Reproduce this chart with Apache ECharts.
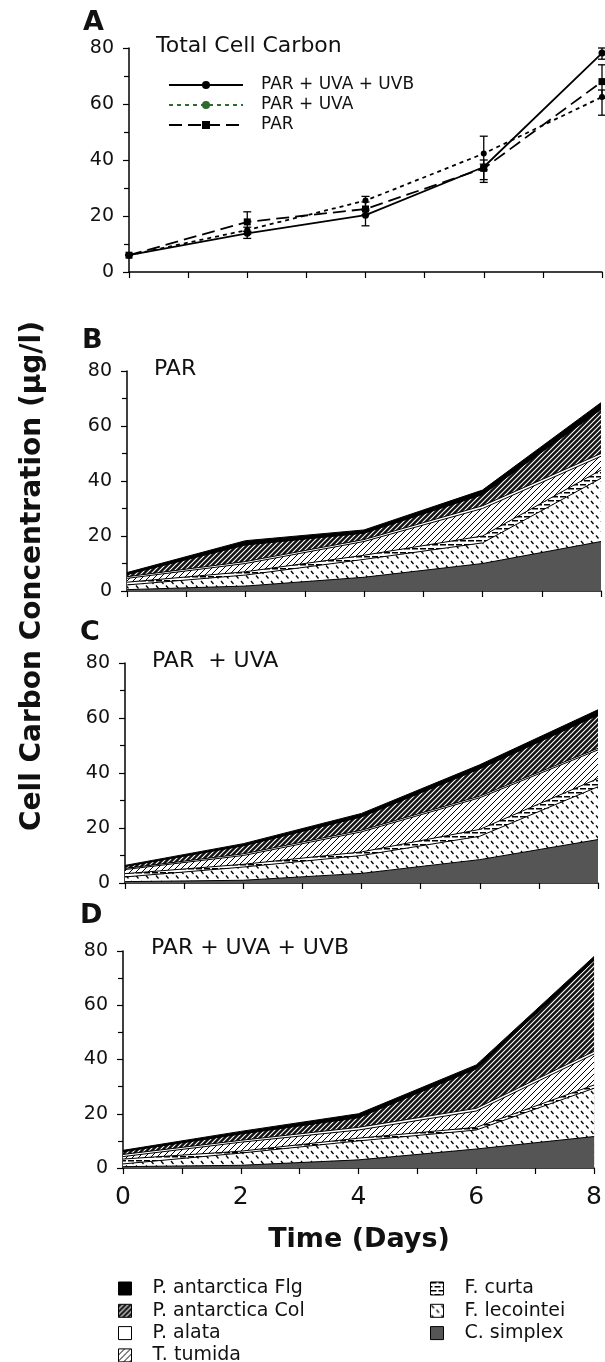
<!DOCTYPE html>
<html><head><meta charset="utf-8">
<script src="https://cdn.jsdelivr.net/npm/echarts@6/dist/echarts.min.js"></script>
<style>html,body{margin:0;padding:0;background:#fff}#c{width:605px;height:1362px}</style>
</head><body><div id="c"></div>
<script>
// ---- data ----
const days = [0, 2, 4, 6, 8];
const yTicks = [0, 20, 40, 60, 80];
const xTickLabels = ['0', '2', '4', '6', '8'];

// Panel A: total cell carbon
const totalNames = ['PAR + UVA + UVB', 'PAR + UVA', 'PAR'];
const totalUVB = [6, 13.8, 20.3, 37.5, 78.2];
const totalUVA = [6, 15.0, 25.5, 42.3, 62.5];
const totalPAR = [6, 17.9, 22.5, 37.0, 68.0];
const errUVB = [[6, 6], [12, 14.5], [16.5, 22], [33, 38.5], [76, 80]];
const errUVA = [[6, 6], [13.5, 16], [22.5, 27], [36.5, 48.5], [56, 65]];
const errPAR = [[6, 6], [14.5, 21.5], [20.5, 25], [32, 40], [62, 74]];

// species, stacking order bottom -> top
const species = ['C. simplex', 'F. lecointei', 'F. curta', 'T. tumida', 'P. alata', 'P. antarctica Col', 'P. antarctica Flg'];

// Panel B: PAR
const B_Csimplex = [0.5, 1.8, 5.0, 10.0, 18.0];
const B_Flecointei = [1.7, 4.0, 6.5, 7.5, 23.0];
const B_Fcurta = [1.0, 1.2, 1.5, 2.5, 3.0];
const B_Ttumida = [1.4, 3.0, 5.0, 10.0, 5.0];
const B_Palata = [0.6, 0.7, 0.7, 1.0, 1.0];
const B_PantCol = [0.8, 6.0, 2.3, 4.0, 16.0];
const B_PantFlg = [0.7, 1.6, 1.2, 1.7, 2.5];

// Panel C: PAR + UVA
const C_Csimplex = [0.5, 1.0, 3.5, 8.5, 15.8];
const C_Flecointei = [1.7, 4.8, 6.5, 8.5, 19.2];
const C_Fcurta = [1.2, 1.0, 1.3, 2.5, 3.0];
const C_Ttumida = [1.5, 3.2, 7.3, 11.5, 10.4];
const C_Palata = [0.4, 0.6, 0.6, 0.6, 0.6];
const C_PantCol = [0.7, 2.9, 4.8, 9.9, 12.0];
const C_PantFlg = [0.4, 0.8, 1.3, 1.5, 2.0];

// Panel D: PAR + UVA + UVB
const D_Csimplex = [0.5, 1.0, 3.0, 7.0, 11.6];
const D_Flecointei = [1.0, 4.5, 7.0, 7.0, 17.8];
const D_Fcurta = [1.8, 0.7, 1.0, 1.0, 1.2];
const D_Ttumida = [0.9, 3.3, 3.0, 6.0, 11.4];
const D_Palata = [0.8, 0.7, 1.0, 1.0, 1.0];
const D_PantCol = [1.0, 2.3, 3.5, 14.5, 33.5];
const D_PantFlg = [0.5, 1.0, 1.5, 1.5, 1.5];

// ---- patterns ----
function tile(s, bg) {
  const c = document.createElement('canvas'); c.width = s; c.height = s;
  const g = c.getContext('2d'); g.fillStyle = bg; g.fillRect(0, 0, s, s); return [c, g];
}
function diag(g, s) {
  g.beginPath();
  g.moveTo(0, s); g.lineTo(s, 0);
  g.moveTo(-1, 1); g.lineTo(1, -1);
  g.moveTo(s - 1, s + 1); g.lineTo(s + 1, s - 1);
  g.stroke();
}
function pattern(kind) {
  let c, g;
  if (kind === 'col') { [c, g] = tile(5, '#111'); g.strokeStyle = '#fff'; g.lineWidth = 1.1; diag(g, 5); }
  else if (kind === 'tum') { [c, g] = tile(6, '#fff'); g.strokeStyle = '#000'; g.lineWidth = 1; diag(g, 6); }
  else if (kind === 'curta') { [c, g] = tile(8, '#fff'); g.fillStyle = '#000'; g.fillRect(0, 0, 6, 1.5); g.fillRect(4, 4, 4, 1.5); g.fillRect(0, 4, 2, 1.5); }
  else if (kind === 'lec') {
    [c, g] = tile(10, '#fff'); g.strokeStyle = '#000'; g.lineWidth = 1.3;
    g.beginPath(); g.moveTo(1, 1); g.lineTo(3.5, 4); g.moveTo(6, 5.5); g.lineTo(8.5, 8.5); g.stroke();
  }
  return { image: c, repeat: 'repeat' };
}
const fills = ['#555555', pattern('lec'), pattern('curta'), pattern('tum'), '#ffffff', pattern('col'), '#000000'];

// ---- layout ----
const FONT = 'DejaVu Sans';
const grids = [
  { left: 129, right: 3, top: 48, height: 224 },
  { left: 127, right: 4, top: 371, height: 220 },
  { left: 125, right: 7, top: 663, height: 220 },
  { left: 123, right: 8, top: 951, height: 217 }
];
const xAxes = grids.map((g, i) => ({
  type: 'value', gridIndex: i, min: 0, max: 8, interval: 2,
  axisLine: { lineStyle: { color: '#000', width: 1.5 } },
  axisTick: { length: 6, lineStyle: { color: '#000', width: 1.2 } },
  minorTick: { show: true, splitNumber: 2, length: 6, lineStyle: { color: '#000', width: 1.2 } },
  splitLine: { show: false },
  axisLabel: { show: i === 3, fontFamily: FONT, fontSize: 25, color: '#111', margin: 17,
    formatter: v => xTickLabels[days.indexOf(v)] }
}));
const yAxes = grids.map((g, i) => ({
  type: 'value', gridIndex: i, min: yTicks[0], max: yTicks[yTicks.length - 1], interval: 20,
  axisLine: { show: true, lineStyle: { color: '#000', width: 1.5 } },
  axisTick: { show: true, length: 6, lineStyle: { color: '#000', width: 1.2 } },
  minorTick: { show: true, splitNumber: 2, length: 5, lineStyle: { color: '#000', width: 1.2 } },
  splitLine: { show: false },
  axisLabel: { fontFamily: FONT, fontSize: 19, color: '#111', margin: 15 }
}));

// cumulative totals for the stacked areas (bottom -> top)
function cumulative(arrays) {
  let acc = days.map(() => 0);
  return arrays.map(a => { acc = acc.map((v, j) => v + a[j]); return acc.slice(); });
}
function stackSeries(gi, arrays) {
  const cum = cumulative(arrays);
  return species.map((name, i) => ({
    type: 'line', name, xAxisIndex: gi, yAxisIndex: gi,
    data: days.map((d, j) => [d, cum[i][j]]),
    symbol: 'none', lineStyle: { color: '#000', width: 1 },
    itemStyle: { color: fills[i] }, areaStyle: { color: fills[i], opacity: 1, origin: 'start' },
    z: 20 - i, silent: true, animation: false
  }));
}
function errSeries(err) {
  return {
    type: 'custom', xAxisIndex: 0, yAxisIndex: 0, silent: true, animation: false, z: 3,
    data: days.map((d, j) => [d, err[j][0], err[j][1]]),
    encode: { x: 0, y: [1, 2] },
    renderItem: (params, api) => {
      const x = api.value(0);
      const lo = api.coord([x, api.value(1)]), hi = api.coord([x, api.value(2)]);
      const w = 4, st = { stroke: '#000', lineWidth: 1.3 };
      return { type: 'group', children: [
        { type: 'line', shape: { x1: lo[0], y1: lo[1], x2: hi[0], y2: hi[1] }, style: st },
        { type: 'line', shape: { x1: lo[0] - w, y1: lo[1], x2: lo[0] + w, y2: lo[1] }, style: st },
        { type: 'line', shape: { x1: hi[0] - w, y1: hi[1], x2: hi[0] + w, y2: hi[1] }, style: st }
      ] };
    }
  };
}
const totalSeries = [
  { name: totalNames[0], type: 'line', xAxisIndex: 0, yAxisIndex: 0, data: days.map((d, j) => [d, totalUVB[j]]),
    symbol: 'circle', symbolSize: 7, itemStyle: { color: '#000' }, lineStyle: { color: '#000', width: 1.8, type: 'solid' }, z: 4, animation: false },
  { name: totalNames[1], type: 'line', xAxisIndex: 0, yAxisIndex: 0, data: days.map((d, j) => [d, totalUVA[j]]),
    symbol: 'circle', symbolSize: 6, itemStyle: { color: '#000' }, lineStyle: { color: '#000', width: 1.8, type: [4, 4] }, z: 4, animation: false },
  { name: totalNames[2], type: 'line', xAxisIndex: 0, yAxisIndex: 0, data: days.map((d, j) => [d, totalPAR[j]]),
    symbol: 'rect', symbolSize: 7, itemStyle: { color: '#000' }, lineStyle: { color: '#000', width: 1.8, type: [13, 6] }, z: 4, animation: false },
  errSeries(errUVB), errSeries(errUVA), errSeries(errPAR)
];

const series = [].concat(
  totalSeries,
  stackSeries(1, [B_Csimplex, B_Flecointei, B_Fcurta, B_Ttumida, B_Palata, B_PantCol, B_PantFlg]),
  stackSeries(2, [C_Csimplex, C_Flecointei, C_Fcurta, C_Ttumida, C_Palata, C_PantCol, C_PantFlg]),
  stackSeries(3, [D_Csimplex, D_Flecointei, D_Fcurta, D_Ttumida, D_Palata, D_PantCol, D_PantFlg])
);

function spItem(name) {
  const i = species.indexOf(name);
  return { name, icon: 'rect', itemStyle: { color: fills[i], borderColor: '#000', borderWidth: 1 } };
}
const legendText = { fontFamily: FONT, fontSize: 19, color: '#111', lineHeight: 18, padding: [0, 0, 0, 16] };
const legends = [
  { left: 163, top: 71, orient: 'vertical', itemWidth: 74, itemHeight: 10, itemGap: 2, selectedMode: false,
    data: [
      { name: totalNames[0] },
      { name: totalNames[1], itemStyle: { color: '#2e6b2e' }, lineStyle: { color: '#2e6b2e' } },
      { name: totalNames[2] }
    ],
    textStyle: { fontFamily: FONT, fontSize: 17, color: '#111', lineHeight: 12, padding: [6, 0, 0, 13] } },
  { left: 118, top: 1279, height: 120, padding: 0, orient: 'vertical', itemWidth: 13, itemHeight: 13, itemGap: 3.3, selectedMode: false,
    data: ['P. antarctica Flg', 'P. antarctica Col', 'P. alata', 'T. tumida'].map(spItem), textStyle: legendText },
  { left: 430, top: 1279, height: 120, padding: 0, orient: 'vertical', itemWidth: 13, itemHeight: 13, itemGap: 3.3, selectedMode: false,
    data: ['F. curta', 'F. lecointei', 'C. simplex'].map(spItem), textStyle: legendText }
];

function txt(text, x, y, size, bold, align, rot) {
  return { type: 'text', x, y, rotation: rot || 0, silent: true,
    style: { text, fontFamily: FONT, fontSize: size, fontWeight: bold ? 'bold' : 'normal', fill: '#111',
      align: align || 'left', verticalAlign: 'middle' } };
}
const graphics = [
  txt('A', 83, 23, 27, true), txt('B', 82, 341, 27, true), txt('C', 80, 633, 27, true), txt('D', 80, 916, 27, true),
  txt('Total Cell Carbon', 156, 46, 22), txt('PAR', 154, 369, 22), txt('PAR  + UVA', 152, 661, 22),
  txt('PAR + UVA + UVB', 151, 948, 22),
  txt('Time (Days)', 359, 1240, 27, true, 'center'),
  txt('Cell Carbon Concentration (\u03bcg/l)', 33, 576, 28, true, 'center', Math.PI / 2)
];

const chart = echarts.init(document.getElementById('c'), null, { renderer: 'canvas' });
chart.setOption({
  backgroundColor: '#fff', animation: false,
  grid: grids, xAxis: xAxes, yAxis: yAxes, series, legend: legends, graphic: graphics
});
</script></body></html>
